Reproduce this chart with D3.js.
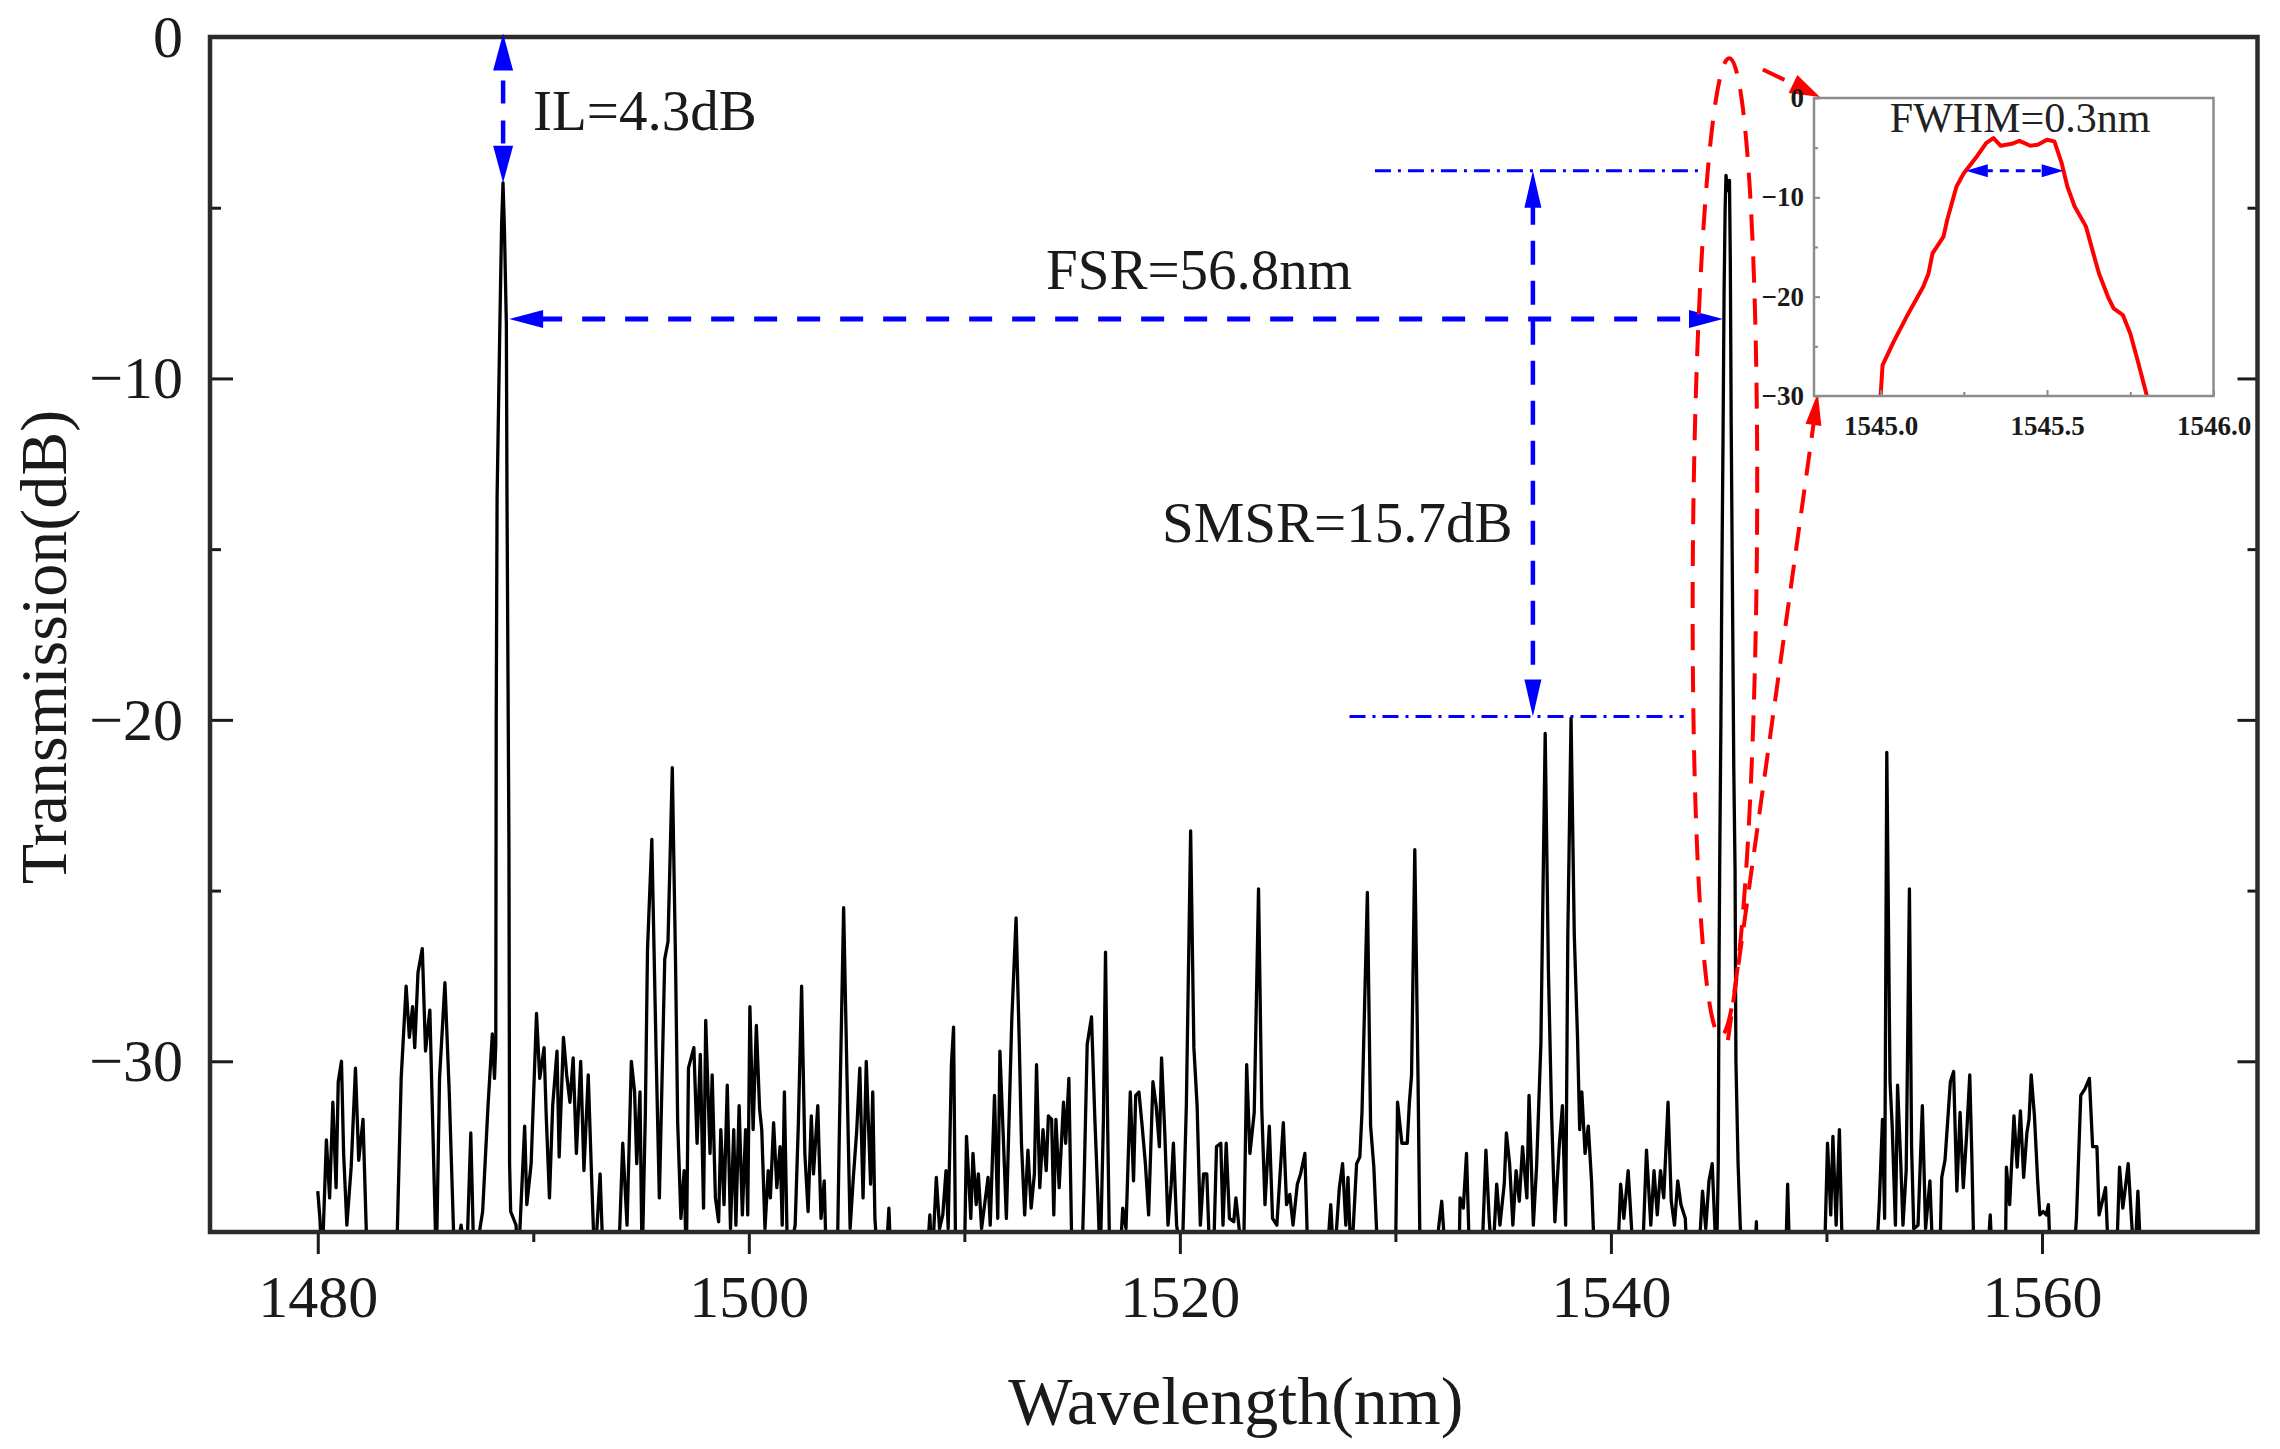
<!DOCTYPE html>
<html><head><meta charset="utf-8">
<script src="https://cdn.jsdelivr.net/npm/d3@7"></script>
<style>html,body{margin:0;padding:0;background:#fff;}svg{display:block;}</style>
</head><body>
<svg id="chart" width="2280" height="1449"></svg>
<script>
// ---------------- DATA ----------------
const spectrum = [
[1480.0,-33.8],[1480.1,-34.6],[1480.2,-36],[1480.4,-32.3],[1480.55,-34],[1480.7,-31.2],[1480.85,-33.7],[1480.95,-30.6],[1481.1,-30.0],[1481.2,-32.7],[1481.35,-34.8],[1481.55,-33.1],[1481.75,-30.2],[1481.9,-32.9],[1482.1,-31.7],[1482.3,-36],
[1483.65,-36],[1483.87,-30.5],[1484.1,-27.8],[1484.25,-29.3],[1484.4,-28.4],[1484.5,-29.6],[1484.65,-27.4],[1484.85,-26.7],[1485.0,-29.7],[1485.2,-28.5],[1485.5,-36],[1485.65,-30.5],[1485.9,-27.7],[1486.1,-30.9],[1486.35,-36],[1486.65,-34.8],[1486.9,-36],[1487.1,-32.1],[1487.25,-36],[1487.65,-34.4],[1487.9,-31.3],[1488.1,-29.2],[1488.2,-30.5],[1488.26,-29.5],
[1488.28,-20],[1488.32,-13.5],[1488.45,-8.4],[1488.53,-5.5],[1488.595,-4.27],[1488.66,-5.6],[1488.75,-8.4],[1488.78,-13.5],[1488.87,-23.7],[1488.9,-33],
[1488.95,-34.4],[1489.2,-34.8],[1489.3,-36],[1489.6,-31.9],[1489.7,-34.2],[1489.9,-33],[1490.15,-28.6],[1490.3,-30.5],[1490.5,-29.6],[1490.6,-31.6],[1490.75,-34],[1490.9,-31.3],[1491.1,-29.7],[1491.2,-32.8],[1491.4,-29.3],[1491.55,-30.4],[1491.7,-31.2],[1491.85,-29.9],[1492.0,-32.7],[1492.2,-30],[1492.35,-33.2],[1492.55,-30.4],[1492.7,-33.3],[1492.85,-36],[1493.1,-33.3],[1493.25,-36],
[1493.95,-36],[1494.15,-32.4],[1494.35,-34.8],[1494.55,-30],[1494.7,-30.9],[1494.8,-33],[1494.95,-30.9],[1495.05,-36],[1495.2,-31.5],[1495.3,-26.7],[1495.5,-23.5],[1495.7,-29.8],[1495.85,-34],[1496.1,-27],[1496.25,-26.5],[1496.45,-21.4],[1496.6,-27.1],[1496.7,-31.8],[1496.85,-34.6],[1497.0,-33.2],[1497.1,-36],[1497.2,-30.2],[1497.45,-29.6],[1497.6,-32.4],[1497.75,-29.8],[1497.9,-34.3],[1498.0,-28.8],[1498.2,-32.7],[1498.3,-30.4],[1498.45,-34],[1498.6,-34.7],[1498.7,-32],[1498.85,-34.2],[1499.0,-30.7],[1499.15,-34.9],[1499.3,-32],[1499.4,-34.8],[1499.55,-31.3],[1499.7,-34.5],[1499.85,-32],[1499.95,-34.5],[1500.05,-28.4],[1500.2,-32],[1500.35,-28.95],[1500.5,-31.4],[1500.6,-32.0],[1500.75,-34.9],[1500.9,-33.2],[1501.0,-34],[1501.15,-31.8],[1501.3,-33.7],[1501.45,-32.5],[1501.55,-34.8],[1501.65,-30.9],[1501.8,-36],[1502.15,-34.8],[1502.3,-31.8],[1502.45,-27.8],[1502.6,-32.7],[1502.75,-34.4],[1502.9,-31.6],[1503.0,-33.3],[1503.2,-31.3],[1503.35,-34.6],[1503.5,-33.5],[1503.6,-36],[1504.1,-36],[1504.2,-32.1],[1504.4,-25.5],[1504.55,-30.3],[1504.7,-34.9],[1504.85,-33.4],[1505.0,-32.1],[1505.15,-30.2],[1505.3,-34],[1505.45,-30],[1505.65,-33.6],[1505.75,-30.9],[1505.85,-34.6],[1506.0,-36],[1506.35,-36],[1506.5,-34.3],[1506.6,-36],
[1508.25,-36],[1508.4,-34.5],[1508.5,-36],[1508.7,-33.4],[1508.85,-34.9],[1509.0,-34.5],[1509.15,-33.2],[1509.25,-34.9],[1509.4,-30.1],[1509.5,-29],[1509.6,-36],[1510.0,-36],[1510.1,-32.2],[1510.3,-34.6],[1510.4,-32.7],[1510.55,-34.2],[1510.65,-33.3],[1510.8,-34.9],[1511.1,-33.4],[1511.2,-34.8],[1511.4,-31],[1511.55,-34.6],[1511.65,-29.7],[1511.8,-32.1],[1511.95,-34.6],[1512.2,-28.8],[1512.4,-25.8],[1512.55,-29.5],[1512.65,-32.4],[1512.8,-34.5],[1512.95,-32.6],[1513.1,-34.3],[1513.25,-33.3],[1513.35,-30.1],[1513.5,-33.7],[1513.65,-32.0],[1513.8,-33.2],[1513.9,-31.6],[1514.05,-31.7],[1514.15,-34.5],[1514.25,-31.7],[1514.4,-33.7],[1514.6,-31.2],[1514.7,-32.4],[1514.85,-30.5],[1515.0,-36],[1515.45,-36],[1515.55,-33.7],[1515.7,-29.5],[1515.9,-28.7],[1516.05,-31.6],[1516.2,-34],[1516.3,-36],[1516.45,-31.8],[1516.55,-26.8],[1516.65,-31.9],[1516.75,-36],[1517.2,-36],[1517.35,-34.3],[1517.5,-34.9],[1517.7,-30.9],[1517.85,-33.5],[1517.95,-31],[1518.1,-30.9],[1518.25,-31.9],[1518.4,-33],[1518.55,-34.5],[1518.75,-30.6],[1518.9,-31.3],[1519.05,-32.5],[1519.15,-29.9],[1519.3,-32.1],[1519.45,-34.8],[1519.6,-33.6],[1519.7,-32.4],[1519.85,-34.8],[1520.1,-36],[1520.3,-31.3],[1520.5,-23.25],[1520.65,-29.6],[1520.8,-31.3],[1520.95,-34.8],[1521.1,-33.3],[1521.25,-33.3],[1521.4,-36],[1521.55,-36],[1521.7,-32.5],[1521.9,-32.4],[1522.0,-34.8],[1522.15,-32.4],[1522.3,-34.6],[1522.5,-34.7],[1522.6,-34],[1522.75,-34.9],[1522.95,-36],[1523.1,-30.1],[1523.25,-32.7],[1523.45,-31.5],[1523.65,-24.95],[1523.8,-31.4],[1523.95,-34.2],[1524.15,-31.9],[1524.3,-34.6],[1524.5,-34.8],[1524.8,-31.8],[1524.95,-34.2],[1525.1,-33.9],[1525.25,-34.8],[1525.45,-33.6],[1525.6,-33.3],[1525.8,-32.7],[1525.95,-36],[1526.8,-36],[1527.0,-34.2],[1527.15,-36],[1527.4,-33.7],[1527.55,-33],[1527.7,-34.8],[1527.8,-33.4],[1527.95,-36],[1528.2,-33],[1528.35,-32.8],[1528.45,-31.5],[1528.7,-25.05],[1528.85,-31.9],[1529.0,-33.1],[1529.2,-36],[1530.0,-36],[1530.1,-31.2],[1530.3,-32.4],[1530.55,-32.4],[1530.65,-31.2],[1530.75,-30.4],[1530.9,-23.8],[1531.05,-30.5],[1531.15,-36],[1531.9,-36],[1532.0,-34.9],[1532.15,-34.1],[1532.35,-36],[1532.95,-36],[1533.0,-34],[1533.15,-34.3],[1533.3,-32.7],[1533.45,-36],[1534.0,-36],[1534.2,-32.6],[1534.35,-34.6],[1534.5,-36],[1534.7,-33.6],[1534.85,-34.8],[1535.05,-33.6],[1535.15,-32.1],[1535.3,-33],[1535.45,-34.8],[1535.6,-33.2],[1535.75,-34.1],[1535.9,-32.5],[1536.1,-34],[1536.2,-31],[1536.4,-34.8],[1536.55,-33.1],[1536.75,-29.5],[1536.95,-20.4],[1537.1,-27.35],[1537.25,-31.6],[1537.4,-34.7],[1537.6,-32.5],[1537.75,-31.3],[1537.9,-34.8],[1538.0,-26.3],[1538.15,-19.95],[1538.3,-26.3],[1538.45,-29.3],[1538.55,-32],[1538.65,-30.9],[1538.8,-32.7],[1538.95,-31.9],[1539.1,-33.5],[1539.25,-36],[1540.3,-36],[1540.45,-33.6],[1540.6,-34.6],[1540.8,-33.2],[1540.95,-34.8],[1541.05,-36],[1541.45,-36],[1541.65,-32.6],[1541.85,-34.8],[1542.0,-33.2],[1542.15,-34.5],[1542.3,-33.2],[1542.45,-34],[1542.65,-31.2],[1542.8,-34.1],[1542.95,-34.8],[1543.1,-33.5],[1543.25,-34.2],[1543.45,-34.6],[1543.55,-36],[1544.05,-36],[1544.25,-33.8],[1544.4,-34.9],[1544.55,-33.5],[1544.7,-33.0],[1544.9,-36],
[1544.98,-33],[1545.0,-30],[1545.02,-26.9],[1545.05,-24],[1545.1,-20.3],[1545.15,-15.6],[1545.2,-11.9],[1545.25,-7.5],[1545.3,-5],[1545.34,-4.05],[1545.4,-4.5],[1545.5,-4.2],[1545.54,-6.6],[1545.58,-11.3],[1545.64,-16.3],[1545.7,-21.4],[1545.76,-24.4],[1545.8,-30],[1545.85,-31.5],[1545.9,-33],[1546.0,-34.8],[1546.1,-36],
[1546.65,-36],[1546.75,-34.7],[1546.8,-36],[1548.1,-36],[1548.2,-33.6],[1548.3,-36],[1549.9,-36],[1550.05,-32.4],[1550.2,-34.5],[1550.3,-32.2],[1550.45,-34.8],[1550.6,-32],[1550.75,-36],[1552.3,-36],[1552.45,-34.2],[1552.6,-31.7],[1552.7,-34.6],[1552.8,-20.95],[1552.95,-30.6],[1553.05,-31.9],[1553.2,-34.8],[1553.3,-30.7],[1553.45,-33],[1553.55,-34.8],[1553.7,-33.2],[1553.85,-24.95],[1553.95,-32.5],[1554.05,-34.9],[1554.25,-34.8],[1554.45,-31.3],[1554.6,-34.9],[1554.8,-33.5],[1554.95,-36],[1555.25,-36],[1555.35,-33.4],[1555.5,-32.9],[1555.75,-30.6],[1555.9,-30.3],[1556.05,-33.8],[1556.2,-31.5],[1556.35,-33.7],[1556.5,-32.2],[1556.65,-30.4],[1556.75,-32.9],[1556.85,-36],[1557.45,-36],[1557.6,-34.5],[1557.7,-36],[1558.3,-36],[1558.35,-33.1],[1558.5,-34.2],[1558.7,-31.6],[1558.85,-33.1],[1559.0,-31.45],[1559.15,-33.4],[1559.3,-32.1],[1559.4,-31.7],[1559.5,-30.4],[1559.65,-31.6],[1559.8,-33.5],[1559.9,-34.5],[1560.05,-34.4],[1560.2,-34.5],[1560.3,-34.2],[1560.4,-36],[1561.45,-36],[1561.6,-34.6],[1561.8,-31],[1562.0,-30.8],[1562.2,-30.5],[1562.35,-32.5],[1562.55,-32.5],[1562.65,-34.5],[1562.8,-34.1],[1562.95,-33.7],[1563.1,-36],[1563.45,-36],[1563.6,-33.1],[1563.75,-34.3],[1563.85,-33.8],[1564.0,-33],[1564.15,-34.6],[1564.3,-36],[1564.45,-33.8],[1564.6,-36]
];

const insetSpectrum = [
[1544.995,-31],[1545.0,-30.0],[1545.006,-26.9],[1545.039,-24.55],[1545.078,-22.03],[1545.128,-19.0],[1545.144,-17.66],[1545.156,-15.64],[1545.189,-13.96],[1545.2,-12.28],[1545.228,-8.91],[1545.25,-7.57],[1545.289,-5.89],[1545.317,-4.54],[1545.339,-4.04],[1545.361,-4.81],[1545.394,-4.61],[1545.417,-4.31],[1545.45,-4.81],[1545.472,-4.71],[1545.5,-4.2],[1545.522,-4.37],[1545.544,-6.56],[1545.561,-8.91],[1545.583,-10.93],[1545.617,-12.95],[1545.639,-15.64],[1545.656,-17.66],[1545.683,-20.01],[1545.7,-21.19],[1545.728,-21.86],[1545.75,-23.71],[1545.772,-26.4],[1545.8,-30.0],[1545.805,-31]
];

const xDomain = [1475, 1570];
const yDomain = [-35, 0];
const xMajorTicks = [1480, 1500, 1520, 1540, 1560];
const xMinorTicks = [1490, 1510, 1530, 1550];
const yMajorTicks = [0, -10, -20, -30];
const yMinorTicks = [-5, -15, -25];

const insetXDomain = [1544.8, 1546.0];
const insetYDomain = [-30, 0];
const insetXTicks = [1545.0, 1545.5, 1546.0];
const insetXMinor = [1545.25, 1545.75];
const insetYTicks = [0, -10, -20, -30];
const insetYMinor = [-5, -15, -25];

// annotations (data units)
const ilArrow = {nm: 1488.6, from: 0.1, to: -4.27};
const fsrArrow = {db: -8.26, from: 1488.88, to: 1545.2};
const smsrArrow = {nm: 1536.38, from: -3.92, to: -19.9};
const smsrRefLines = [{db: -3.92, from: 1529.05, to: 1544.32}, {db: -19.9, from: 1527.87, to: 1543.38}];
const mainLabels = [
  {text: "IL=4.3dB", nm: 1489.99, db: -2.72},
  {text: "FSR=56.8nm", nm: 1513.79, db: -7.38},
  {text: "SMSR=15.7dB", nm: 1519.17, db: -14.79}
];
const zoomEllipse = {nm: 1545.29, db: -14.94, rnm: 1.485, rdb: 14.32, rot: 0.5};
const zoomArrows = [
  {from: [1547.05, -0.95], to: [1549.70, -1.76], len: 30, wid: 20},
  {from: [1545.43, -29.38], to: [1549.60, -10.43], len: 32, wid: 16}
];
const fwhmArrow = {db: -7.33, from: 1545.256, to: 1545.55};
const fwhmLabel = {text: "FWHM=0.3nm", nm: 1545.419, db: -3.42};

// ---------------- LAYOUT ----------------
const M = {left: 210, right: 2257.5, top: 37, bottom: 1232};
const INS = {left: 1814, right: 2213.5, top: 98, bottom: 396};
const FONT = "'Liberation Serif','Times New Roman',serif";
const BLUE = "#0000ff", RED = "#ff0000", INK = "#1a1a1a";

const svg = d3.select("#chart");
const x = d3.scaleLinear().domain(xDomain).range([M.left, M.right]);
const y = d3.scaleLinear().domain(yDomain).range([M.bottom, M.top]);
const ix = d3.scaleLinear().domain(insetXDomain).range([INS.left, INS.right]);
const iy = d3.scaleLinear().domain(insetYDomain).range([INS.bottom, INS.top]);

const defs = svg.append("defs");
defs.append("clipPath").attr("id", "clipMain").append("rect")
  .attr("x", M.left).attr("y", M.top).attr("width", M.right - M.left).attr("height", M.bottom - M.top);
defs.append("clipPath").attr("id", "clipInset").append("rect")
  .attr("x", INS.left).attr("y", INS.top).attr("width", INS.right - INS.left).attr("height", INS.bottom - INS.top);

function arrowHead(sel, tx, ty, fx, fy, len, wid, color) {
  const dx = tx - fx, dy = ty - fy, L = Math.hypot(dx, dy);
  const ux = dx / L, uy = dy / L, px = -uy, py = ux;
  const bx = tx - ux * len, by = ty - uy * len;
  sel.append("polygon")
    .attr("points", [[tx, ty], [bx + px * wid / 2, by + py * wid / 2], [bx - px * wid / 2, by - py * wid / 2]].map(p => p.join(",")).join(" "))
    .attr("fill", color);
}

// ---------------- SPECTRUM ----------------
const line = d3.line().x(d => x(d[0])).y(d => y(d[1]));
svg.append("path").datum(spectrum)
  .attr("clip-path", "url(#clipMain)")
  .attr("d", line).attr("fill", "none").attr("stroke", "#000")
  .attr("stroke-width", 3.3).attr("stroke-linejoin", "round");

// ---------------- AXES ----------------
function styleAxis(g, fs) {
  g.attr("font-family", FONT).attr("font-size", fs).attr("color", INK);
  g.select(".domain").remove();
  g.selectAll(".tick line").attr("stroke-width", 3);
}
const gxMaj = svg.append("g").attr("transform", `translate(0,${M.bottom})`)
  .call(d3.axisBottom(x).tickValues(xMajorTicks).tickSizeInner(22).tickSizeOuter(0).tickFormat(d3.format("d")));
styleAxis(gxMaj, 60);
gxMaj.selectAll(".tick text").attr("y", 85).attr("dy", 0);
const gxMin = svg.append("g").attr("transform", `translate(0,${M.bottom})`)
  .call(d3.axisBottom(x).tickValues(xMinorTicks).tickSizeInner(10).tickSizeOuter(0).tickFormat(""));
styleAxis(gxMin, 10);

const gyMaj = svg.append("g").attr("transform", `translate(${M.left},0)`)
  .call(d3.axisLeft(y).tickValues(yMajorTicks).tickSizeInner(-23).tickSizeOuter(0).tickPadding(27).tickFormat(d3.format("d")));
styleAxis(gyMaj, 60);
const gyMin = svg.append("g").attr("transform", `translate(${M.left},0)`)
  .call(d3.axisLeft(y).tickValues(yMinorTicks).tickSizeInner(-11).tickSizeOuter(0).tickFormat(""));
styleAxis(gyMin, 10);
const gyrMaj = svg.append("g").attr("transform", `translate(${M.right},0)`)
  .call(d3.axisRight(y).tickValues(yMajorTicks).tickSizeInner(-20).tickSizeOuter(0).tickFormat(""));
styleAxis(gyrMaj, 10);
const gyrMin = svg.append("g").attr("transform", `translate(${M.right},0)`)
  .call(d3.axisRight(y).tickValues(yMinorTicks).tickSizeInner(-10).tickSizeOuter(0).tickFormat(""));
styleAxis(gyrMin, 10);

svg.append("rect").attr("x", M.left).attr("y", M.top)
  .attr("width", M.right - M.left).attr("height", M.bottom - M.top)
  .attr("fill", "none").attr("stroke", "#2b2b2b").attr("stroke-width", 4.5);

svg.append("text").attr("x", (M.left + M.right) / 2 + 2).attr("y", 1424)
  .attr("text-anchor", "middle").attr("font-family", FONT).attr("font-size", 68).attr("fill", INK)
  .text("Wavelength(nm)");
svg.append("text").attr("transform", "translate(66,647) rotate(-90)")
  .attr("text-anchor", "middle").attr("font-family", FONT).attr("font-size", 66).attr("fill", INK)
  .text("Transmission(dB)");

// ---------------- ANNOTATIONS ----------------
const ann = svg.append("g");
smsrRefLines.forEach(r => {
  ann.append("line").attr("x1", x(r.from)).attr("x2", x(r.to)).attr("y1", y(r.db)).attr("y2", y(r.db))
    .attr("stroke", BLUE).attr("stroke-width", 3).attr("stroke-dasharray", "16,7,3,7");
});
{
  const X = x(ilArrow.nm), y1 = y(ilArrow.from), y2 = y(ilArrow.to);
  ann.append("line").attr("x1", X).attr("x2", X).attr("y1", y1 + 37).attr("y2", y2 - 37)
    .attr("stroke", BLUE).attr("stroke-width", 4.5).attr("stroke-dasharray", "23,17").attr("stroke-dashoffset", -10);
  arrowHead(ann, X, y1, X, y2, 37, 20, BLUE);
  arrowHead(ann, X, y2, X, y1, 37, 20, BLUE);
}
{
  const Y = y(fsrArrow.db), x1 = x(fsrArrow.from), x2 = x(fsrArrow.to);
  ann.append("line").attr("x1", x1 + 30).attr("x2", x2 - 30).attr("y1", Y).attr("y2", Y)
    .attr("stroke", BLUE).attr("stroke-width", 5).attr("stroke-dasharray", "23,20");
  arrowHead(ann, x1, Y, x2, Y, 34, 18, BLUE);
  arrowHead(ann, x2, Y, x1, Y, 34, 18, BLUE);
}
{
  const X = x(smsrArrow.nm), y1 = y(smsrArrow.from), y2 = y(smsrArrow.to);
  ann.append("line").attr("x1", X).attr("x2", X).attr("y1", y1 + 30).attr("y2", y2 - 30)
    .attr("stroke", BLUE).attr("stroke-width", 4.5).attr("stroke-dasharray", "24,16");
  arrowHead(ann, X, y1, X, y2, 37, 17, BLUE);
  arrowHead(ann, X, y2, X, y1, 37, 17, BLUE);
}
mainLabels.forEach(l => {
  ann.append("text").attr("x", x(l.nm)).attr("y", y(l.db))
    .attr("font-family", FONT).attr("font-size", 57).attr("fill", INK).text(l.text);
});
{
  const cx = x(zoomEllipse.nm), cy = y(zoomEllipse.db);
  const rx = x(zoomEllipse.nm + zoomEllipse.rnm) - cx;
  const ry = cy - y(zoomEllipse.db + zoomEllipse.rdb);
  ann.append("ellipse").attr("cx", cx).attr("cy", cy).attr("rx", rx).attr("ry", ry)
    .attr("transform", `rotate(${zoomEllipse.rot},${cx},${cy})`)
    .attr("fill", "none").attr("stroke", RED).attr("stroke-width", 4).attr("stroke-dasharray", "26,16");
  zoomArrows.forEach(a => {
    const fx = x(a.from[0]), fy = y(a.from[1]), tx = x(a.to[0]), ty = y(a.to[1]);
    const L = Math.hypot(tx - fx, ty - fy);
    const ex = tx - (tx - fx) / L * a.len * 0.8, ey = ty - (ty - fy) / L * a.len * 0.8;
    ann.append("line").attr("x1", fx).attr("y1", fy).attr("x2", ex).attr("y2", ey)
      .attr("stroke", RED).attr("stroke-width", 4).attr("stroke-dasharray", "24,14");
    arrowHead(ann, tx, ty, fx, fy, a.len, a.wid, RED);
  });
}

// ---------------- INSET ----------------
const ins = svg.append("g");
ins.append("rect").attr("x", INS.left).attr("y", INS.top)
  .attr("width", INS.right - INS.left).attr("height", INS.bottom - INS.top)
  .attr("fill", "#fff");
ins.append("path").datum(insetSpectrum).attr("clip-path", "url(#clipInset)")
  .attr("d", d3.line().x(d => ix(d[0])).y(d => iy(d[1])))
  .attr("fill", "none").attr("stroke", RED).attr("stroke-width", 4).attr("stroke-linejoin", "round");

const gix = ins.append("g").attr("transform", `translate(0,${INS.bottom})`)
  .call(d3.axisBottom(ix).tickValues(insetXTicks).tickSizeInner(-6).tickSizeOuter(0).tickPadding(13).tickFormat(d3.format(".1f")));
styleAxis(gix, 27);
gix.selectAll(".tick text").attr("y", 39).attr("dy", 0).attr("font-weight", "bold");
gix.selectAll(".tick line").attr("stroke-width", 2).attr("stroke", "#888");
const gixm = ins.append("g").attr("transform", `translate(0,${INS.bottom})`)
  .call(d3.axisBottom(ix).tickValues(insetXMinor).tickSizeInner(-4).tickSizeOuter(0).tickFormat(""));
styleAxis(gixm, 10);
gixm.selectAll(".tick line").attr("stroke-width", 2).attr("stroke", "#888");
const giy = ins.append("g").attr("transform", `translate(${INS.left},0)`)
  .call(d3.axisLeft(iy).tickValues(insetYTicks).tickSizeInner(-6).tickSizeOuter(0).tickPadding(10).tickFormat(d3.format("d")));
styleAxis(giy, 27);
giy.selectAll(".tick text").attr("font-weight", "bold");
giy.selectAll(".tick line").attr("stroke-width", 2).attr("stroke", "#888");
const giym = ins.append("g").attr("transform", `translate(${INS.left},0)`)
  .call(d3.axisLeft(iy).tickValues(insetYMinor).tickSizeInner(-4).tickSizeOuter(0).tickFormat(""));
styleAxis(giym, 10);
giym.selectAll(".tick line").attr("stroke-width", 2).attr("stroke", "#888");

ins.append("rect").attr("x", INS.left).attr("y", INS.top)
  .attr("width", INS.right - INS.left).attr("height", INS.bottom - INS.top)
  .attr("fill", "none").attr("stroke", "#8c8c8c").attr("stroke-width", 2.5);

ins.append("text").attr("x", ix(fwhmLabel.nm)).attr("y", iy(fwhmLabel.db))
  .attr("text-anchor", "middle").attr("font-family", FONT).attr("font-size", 42).attr("fill", "#222")
  .text(fwhmLabel.text);
{
  const Y = iy(fwhmArrow.db), x1 = ix(fwhmArrow.from), x2 = ix(fwhmArrow.to);
  ins.append("line").attr("x1", x1 + 18).attr("x2", x2 - 18).attr("y1", Y).attr("y2", Y)
    .attr("stroke", BLUE).attr("stroke-width", 3).attr("stroke-dasharray", "9,7");
  arrowHead(ins, x1, Y, x2, Y, 22, 13, BLUE);
  arrowHead(ins, x2, Y, x1, Y, 22, 13, BLUE);
}
</script>
</body></html>
